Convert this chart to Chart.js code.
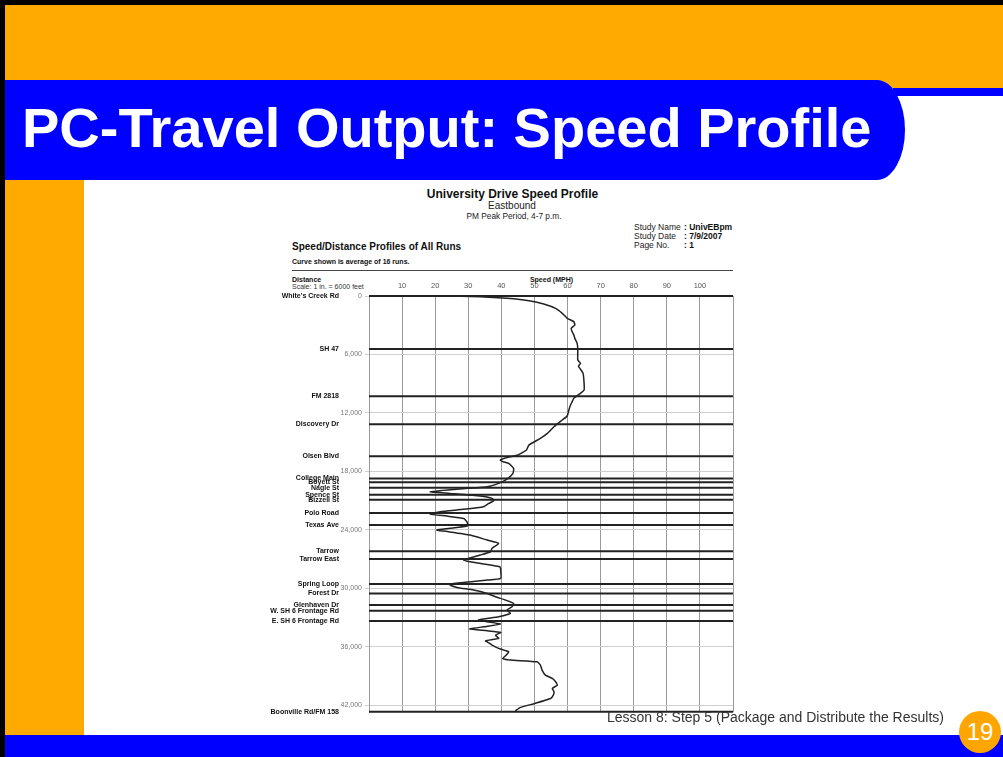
<!DOCTYPE html>
<html>
<head>
<meta charset="utf-8">
<title>PC-Travel Output: Speed Profile</title>
<script src="https://cdn.jsdelivr.net/npm/chart.js@4"></script>
<style>
    html, body { margin: 0; padding: 0; background: #fff; }
    body { width: 1003px; height: 757px; position: relative; overflow: hidden; font-family: "Liberation Sans", Arial, sans-serif; }
    .abs { position: absolute; white-space: nowrap; line-height: 1; }
    .center { transform: translate(-50%, -50%); }
    .mid { transform: translateY(-50%); }
</style>
</head>
<body>
    <!-- slide frame -->
    <div class="abs" style="left:0;top:0;width:1003px;height:5px;background:#000"></div>
    <div class="abs" style="left:0;top:0;width:5px;height:757px;background:#000"></div>
    <div class="abs" style="left:5px;top:5px;width:998px;height:83px;background:#ffaa00"></div>
    <div class="abs" style="left:893px;top:88px;width:110px;height:8px;background:#0000ff"></div>
    <div class="abs" style="left:5px;top:80px;width:900px;height:100px;background:#0000ff;border-top-right-radius:28px 50px;border-bottom-right-radius:28px 50px"></div>
    <div class="abs" style="left:22px;top:100px;font-size:56px;font-weight:bold;color:#fff">PC-Travel Output: Speed Profile</div>
    <div class="abs" style="left:5px;top:180px;width:79px;height:555px;background:#ffaa00"></div>
    <div class="abs" style="left:5px;top:735px;width:998px;height:22px;background:#0000ff"></div>

    <!-- report header -->
    <div class="abs center" style="left:512.5px;top:194px;font-size:12px;font-weight:bold;color:#111">University Drive Speed Profile</div>
    <div class="abs center" style="left:512px;top:206px;font-size:10px;color:#222">Eastbound</div>
    <div class="abs center" style="left:514px;top:216px;font-size:8.3px;color:#222">PM Peak Period, 4-7 p.m.</div>

    <div class="abs mid" style="left:634px;top:226.7px;font-size:8.5px;color:#222">Study Name</div>
    <div class="abs mid" style="left:684px;top:226.7px;font-size:8.5px;font-weight:bold;color:#111">: UnivEBpm</div>
    <div class="abs mid" style="left:634px;top:236px;font-size:8.5px;color:#222">Study Date</div>
    <div class="abs mid" style="left:684px;top:236px;font-size:8.5px;font-weight:bold;color:#111">: 7/9/2007</div>
    <div class="abs mid" style="left:634px;top:245.3px;font-size:8.5px;color:#222">Page No.</div>
    <div class="abs mid" style="left:684px;top:245.3px;font-size:8.5px;font-weight:bold;color:#111">: 1</div>

    <div class="abs mid" style="left:292px;top:246.7px;font-size:10px;font-weight:bold;color:#111">Speed/Distance Profiles of All Runs</div>
    <div class="abs mid" style="left:292px;top:261px;font-size:7px;font-weight:bold;color:#111">Curve shown is average of 16 runs.</div>
    <div class="abs" style="left:292px;top:270px;width:441px;height:1px;background:#444"></div>
    <div class="abs mid" style="left:292px;top:279px;font-size:7px;font-weight:bold;color:#111">Distance</div>
    <div class="abs mid" style="left:292px;top:285.5px;font-size:7px;color:#333">Scale: 1 in. = 6000 feet</div>
    <div class="abs center" style="left:551.5px;top:279px;font-size:7px;font-weight:bold;color:#111">Speed (MPH)</div>

    <canvas id="speedChart" width="500" height="545" style="position:absolute;left:250px;top:180px;width:500px;height:545px"></canvas>

    <!-- footer -->
    <div class="abs" style="left:607px;top:710px;font-size:14px;color:#333">Lesson 8: Step 5 (Package and Distribute the Results)</div>
    <div class="abs" style="left:959px;top:711px;width:42px;height:42px;border-radius:50%;background:#ffa500;color:#fff;font-size:24px;text-align:center;line-height:42px">19</div>

<script>
// ── Data ──────────────────────────────────────────────────────────────

// average speed (mph) along the corridor, distance in feet from White's Creek Rd
const distances = [
    0, 70, 240, 510, 820, 1270, 1780, 2290, 2630, 2980, 3320, 3660, 4000, 4350, 4860,
    5500, 6570, 6900, 7200, 7500, 7940, 8970, 9650, 9990, 10500, 10850, 11190, 11700,
    12320, 12730, 13420, 14100, 14610, 15300, 15810, 16320, 16560, 16840, 17010, 17180,
    17690, 18210, 18720, 19130, 19580, 19850, 20090, 20260, 20530, 20770, 21020, 21290,
    21630, 21900, 22140, 22380, 22590, 22830, 23170, 23580, 23850, 24020, 24130, 24540,
    25050, 25390, 25900, 26250, 26590, 27100, 27280, 27790, 28130, 28980, 29160, 29500,
    29670, 29910, 30180, 30530, 30870, 31210, 31550, 31900, 32240, 32580, 32920, 33260,
    33440, 33680, 33950, 34190, 34360, 34530, 34810, 35150, 35400, 35600, 35830, 36170,
    36520, 36860, 37200, 37370, 37540, 37880, 38400, 38910, 39250, 39600, 39940, 40280,
    40630, 40970, 41310, 41820, 42230, 42580
];
const speeds = [
    22.0, 33.6, 41.7, 48.8, 52.8, 56.4, 58.4, 59.9, 61.9, 62.2, 61.1, 61.4, 61.9, 62.2, 62.9,
    63.1, 63.1, 63.9, 63.3, 63.9, 64.7, 65.0, 65.0, 63.9, 61.9, 61.4, 60.9, 60.4,
    59.9, 58.4, 55.9, 53.9, 51.8, 48.3, 47.6, 45.0, 42.0, 39.7, 40.5, 42.2,
    43.7, 43.5, 42.0, 39.9, 35.7, 25.5, 18.5, 24.5, 33.6, 37.2, 37.7, 36.2,
    34.6, 28.6, 21.5, 18.5, 23.5, 28.6, 29.6, 29.8, 24.5, 20.5, 22.5, 30.6,
    35.7, 39.2, 37.2, 36.7, 33.6, 28.6, 30.6, 39.5, 39.8, 39.8, 35.7, 25.5,
    24.5, 26.6, 31.6, 35.7, 38.2, 41.2, 43.7, 43.2, 41.7, 42.7, 39.2, 33.1,
    35.7, 39.7, 34.6, 30.4, 35.7, 39.8, 38.2, 39.2, 35.2, 36.2, 37.2, 39.2,
    42.2, 41.5, 40.4, 42.7, 50.8, 51.8, 52.3, 53.3, 55.4, 56.4, 56.9, 55.4,
    55.9, 55.7, 54.9, 50.1, 45.8, 44.2
];

const streetNames = [
    "White's Creek Rd", 'SH 47', 'FM 2818', 'Discovery Dr', 'Olsen Blvd',
    'College Main', 'Boyett St', 'Nagle St', 'Spence St', 'Bizzell St',
    'Polo Road', 'Texas Ave', 'Tarrow', 'Tarrow East', 'Spring Loop',
    'Forest Dr', 'Glenhaven Dr', 'W. SH 6 Frontage Rd', 'E. SH 6 Frontage Rd', 'Boonville Rd/FM 158'
];
const streetDistances = [
    0, 5440, 10300, 13170, 16460,
    18720, 19130, 19680, 20400, 20910,
    22280, 23510, 26210, 27000, 29570,
    30530, 31720, 32310, 33370, 42680
];

const distanceTicks = [0, 6000, 12000, 18000, 24000, 30000, 36000, 42000];
const speedTicks    = [0, 10, 20, 30, 40, 50, 60, 70, 80, 90, 100, 110];

// ── Cross-street lines and labels ─────────────────────────────────────

const streetsPlugin = {
    id: 'streets',
    beforeDatasetsDraw(chart) {
        const { ctx, chartArea, scales } = chart;
        ctx.save();
        ctx.strokeStyle = '#222';
        ctx.lineWidth = 2;
        ctx.fillStyle = '#111';
        ctx.font = 'bold 7px "Liberation Sans", Arial, sans-serif';
        ctx.textAlign = 'right';
        ctx.textBaseline = 'middle';
        streetDistances.forEach((d, i) => {
            const y = scales.y.getPixelForValue(d);
            ctx.beginPath();
            ctx.moveTo(chartArea.left, y);
            ctx.lineTo(chartArea.right, y);
            ctx.stroke();
            ctx.fillText(streetNames[i], chartArea.left - 30, y);
        });
        ctx.restore();
    }
};

// ── Chart ─────────────────────────────────────────────────────────────

new Chart(document.getElementById('speedChart'), {
    type: 'scatter',
    data: {
        datasets: [{
            data: distances.map((d, i) => ({ x: speeds[i], y: d })),
            showLine: true,
            borderColor: '#222',
            borderWidth: 1.5,
            pointRadius: 0,
            tension: 0.15,
        }],
    },
    options: {
        responsive: false,
        animation: false,
        layout: { padding: { left: 0, right: 17, top: 0, bottom: 13 } },
        plugins: { legend: { display: false }, tooltip: { enabled: false } },
        scales: {
            x: {
                type: 'linear',
                position: 'top',
                min: 0,
                max: 110,
                afterBuildTicks: s => { s.ticks = speedTicks.map(v => ({ value: v })); },
                afterFit: s => { s.height = 116; },
                ticks: {
                    callback: v => (v === 0 || v === 110) ? '' : v,
                    color: '#555',
                    font: { size: 7.5, family: '"Liberation Sans", Arial' },
                    padding: 6,
                    maxRotation: 0,
                },
                grid: { color: '#9a9a9a', lineWidth: 1, drawTicks: false },
                border: { color: '#9a9a9a' },
            },
            y: {
                type: 'linear',
                reverse: true,
                min: 0,
                max: 42700,
                afterBuildTicks: s => { s.ticks = distanceTicks.map(v => ({ value: v })); },
                afterFit: s => { s.width = 119; },
                ticks: {
                    color: '#777',
                    font: { size: 7, family: '"Liberation Sans", Arial' },
                    padding: 3,
                },
                grid: { color: '#cfcfcf', lineWidth: 1, tickLength: 4 },
                border: { color: '#9a9a9a' },
            },
        },
    },
    plugins: [streetsPlugin],
});
</script>
</body>
</html>
